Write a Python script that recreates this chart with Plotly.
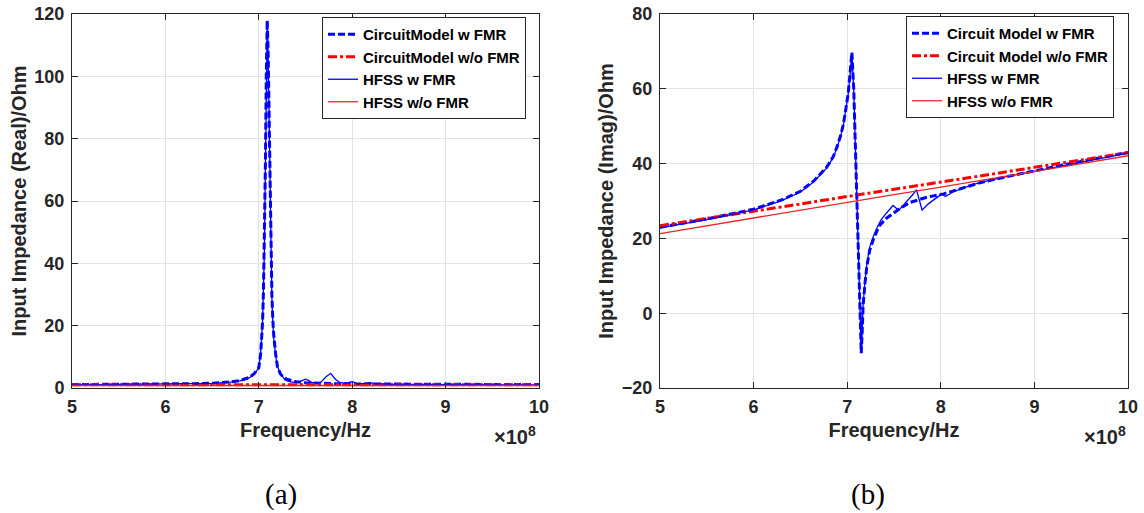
import plotly.graph_objects as go

W, H = 1144, 513

# ---------------- data (frequency in units of 1e8 Hz) ----------------
# (a) real part
re_cm_w_f = [5.0, 5.5, 6.0, 6.3, 6.5, 6.6, 6.7, 6.8, 6.85, 6.9, 6.95, 6.98, 7.0, 7.02, 7.03, 7.04,
             7.05, 7.06, 7.07, 7.08, 7.09, 7.10, 7.11, 7.12, 7.13, 7.14, 7.15, 7.16, 7.18, 7.2,
             7.23, 7.26, 7.3, 7.35, 7.4, 7.5, 7.6, 7.8, 8.0, 8.5, 9.0, 10.0]
re_cm_w_v = [1.1, 1.15, 1.25, 1.4, 1.55, 1.7, 1.95, 2.4, 2.8, 3.4, 4.6, 5.6, 6.5, 11.0, 15.0, 21.0,
             31.0, 45.0, 70.0, 100.0, 118.0, 108.0, 85.0, 60.0, 42.0, 30.0, 22.0, 17.0, 11.0, 6.8,
             4.6, 3.6, 2.8, 2.3, 2.0, 1.7, 1.55, 1.4, 1.3, 1.2, 1.15, 1.1]

re_cm_wo_f = [5.0, 6.0, 7.0, 8.0, 9.0, 10.0]
re_cm_wo_v = [1.05, 1.05, 1.04, 1.04, 1.03, 1.03]

re_hf_w_f = [5.0, 5.5, 6.0, 6.5, 6.7, 6.8, 6.9, 6.95, 7.0, 7.02, 7.04, 7.05, 7.06, 7.07, 7.08,
             7.09, 7.10, 7.11, 7.12, 7.13, 7.14, 7.15, 7.16, 7.18, 7.2, 7.23, 7.28, 7.34, 7.41,
             7.45, 7.5, 7.54, 7.57, 7.66, 7.72, 7.77, 7.82, 7.87, 7.94, 8.0, 8.05, 8.12, 8.19,
             8.25, 8.3, 8.4, 9.0, 10.0]
re_hf_w_v = [1.0, 1.1, 1.2, 1.5, 1.9, 2.3, 3.3, 4.5, 6.4, 11.5, 21.0, 30.0, 44.0, 69.0, 99.0,
             117.0, 107.0, 84.0, 59.0, 41.0, 29.0, 21.0, 16.0, 10.5, 6.9, 4.8, 2.6, 2.0, 1.7,
             2.2, 2.8, 2.3, 1.7, 1.7, 3.6, 4.7, 2.8, 1.7, 1.6, 2.0, 1.4, 1.5, 1.7,
             1.4, 1.3, 1.2, 1.1, 1.0]

re_hf_wo_f = [5.0, 6.0, 7.0, 8.0, 9.0, 10.0]
re_hf_wo_v = [0.8, 0.8, 0.8, 0.8, 0.8, 0.8]

# (b) imaginary part
im_cm_w_f = [5.0, 5.5, 6.0, 6.3, 6.5, 6.64, 6.78, 6.85, 6.89, 6.93, 6.96, 6.99, 7.01, 7.03,
             7.05, 7.07, 7.09, 7.10, 7.12, 7.13, 7.15, 7.16, 7.17, 7.19, 7.21, 7.24, 7.28,
             7.32, 7.35, 7.42, 7.49, 7.58, 7.67, 7.76, 7.85, 8.03, 8.2, 8.42, 8.7, 9.0,
             9.5, 10.0]
im_cm_w_v = [23.0, 25.2, 27.8, 30.3, 32.6, 35.3, 39.0, 41.8, 44.4, 47.5, 50.6, 55.0, 58.6, 64.0,
             69.7, 60.0, 42.0, 30.0, 12.0, 3.5, -10.7, -5.0, 2.0, 8.0, 12.5, 16.8, 19.8,
             22.1, 23.6, 25.4, 26.7, 28.3, 29.6, 30.4, 31.0, 31.9, 33.3, 34.9, 36.5, 38.1,
             40.6, 43.0]

im_cm_wo_f = [5.0, 5.5, 6.0, 6.5, 7.0, 7.5, 8.0, 8.5, 9.0, 9.5, 10.0]
im_cm_wo_v = [23.4, 25.3, 27.3, 29.2, 31.2, 33.1, 35.1, 37.0, 39.0, 40.9, 42.9]

im_hf_w_f = [5.0, 5.5, 6.0, 6.3, 6.5, 6.64, 6.78, 6.85, 6.89, 6.93, 6.96, 6.99, 7.01, 7.03,
             7.05, 7.07, 7.09, 7.10, 7.12, 7.13, 7.15, 7.16, 7.17, 7.19, 7.21, 7.24, 7.28,
             7.32, 7.36, 7.42, 7.49, 7.55, 7.62, 7.69, 7.74, 7.80, 7.87, 7.94, 8.01, 8.05,
             8.13, 8.25, 8.42, 8.7, 9.0, 9.5, 10.0]
im_hf_w_v = [22.8, 25.0, 27.6, 30.1, 32.4, 35.1, 38.8, 41.6, 44.2, 47.3, 50.4, 54.8, 58.4, 63.8,
             69.4, 59.8, 41.8, 29.8, 11.8, 3.3, -10.5, -4.8, 2.3, 8.6, 13.2, 17.6, 20.6,
             22.9, 24.9, 26.8, 28.8, 27.5, 29.4, 31.4, 33.0, 27.6, 29.3, 30.7, 31.9, 31.2,
             32.4, 33.6, 35.0, 36.5, 38.0, 40.4, 42.8]

im_hf_wo_f = [5.0, 5.5, 6.0, 6.5, 7.0, 7.5, 8.0, 8.5, 9.0, 9.5, 10.0]
im_hf_wo_v = [21.3, 23.4, 25.4, 27.5, 29.6, 31.7, 33.7, 35.8, 37.9, 40.0, 42.1]

x_ticks = [5, 6, 7, 8, 9, 10]
names_a = ["CircuitModel w FMR", "CircuitModel w/o FMR", "HFSS w FMR", "HFSS w/o FMR"]
names_b = ["Circuit Model w FMR", "Circuit Model w/o FMR", "HFSS w FMR", "HFSS w/o FMR"]

# ---------------- styling ----------------
BLUE = "#0000ff"
RED = "#ff0000"
RED_THIN = "#e8262a"
AX = "#262626"
FONT = "Liberation Sans, Arial, sans-serif"

styles = [
    dict(color=BLUE, width=3, dash="7px,3px"),
    dict(color=RED, width=3, dash="9px,3px,3px,3px"),
    dict(color=BLUE, width=1.3),
    dict(color=RED_THIN, width=1.3),
]

fig = go.Figure()

data_a = [(re_cm_w_f, re_cm_w_v), (re_cm_wo_f, re_cm_wo_v), (re_hf_w_f, re_hf_w_v), (re_hf_wo_f, re_hf_wo_v)]
data_b = [(im_cm_w_f, im_cm_w_v), (im_cm_wo_f, im_cm_wo_v), (im_hf_w_f, im_hf_w_v), (im_hf_wo_f, im_hf_wo_v)]

for (fx, fy), nm, st in zip(data_a, names_a, styles):
    fig.add_trace(go.Scatter(x=fx, y=fy, mode="lines", name=nm, line=st,
                             xaxis="x", yaxis="y", legend="legend"))
for (fx, fy), nm, st in zip(data_b, names_b, styles):
    fig.add_trace(go.Scatter(x=fx, y=fy, mode="lines", name=nm, line=st,
                             xaxis="x2", yaxis="y2", legend="legend2"))

ydom = [(H - 388) / H, (H - 14) / H]
axis_common = dict(
    showline=True, linecolor=AX, linewidth=1, mirror="ticks",
    ticks="inside", ticklen=6, tickwidth=1, tickcolor=AX,
    showgrid=True, gridcolor="#e3e3e3", gridwidth=1, zeroline=False,
    tickfont=dict(family=FONT, size=18, color=AX, weight="bold"),
    automargin=False,
)
title_font = dict(family=FONT, size=20, color=AX, weight="bold")
leg_font = dict(family=FONT, size=15, color="black", weight="bold")

fig.update_layout(
    width=W, height=H, autosize=False,
    margin=dict(l=0, r=0, t=0, b=0),
    paper_bgcolor="white", plot_bgcolor="white",
    showlegend=True,
    xaxis=dict(domain=[72 / W, 539 / W], range=[5, 10], tickvals=x_ticks, anchor="y",
               ticklabelstandoff=2,
               title=dict(text="Frequency/Hz", font=title_font, standoff=7), **axis_common),
    yaxis=dict(domain=ydom, range=[0, 120], dtick=20, anchor="x", ticklabelstandoff=3,
               title=dict(text="Input Impedance (Real)/Ohm", font=title_font, standoff=2),
               **axis_common),
    xaxis2=dict(domain=[660 / W, 1128 / W], range=[5, 10], tickvals=x_ticks, anchor="y2",
                ticklabelstandoff=2,
                title=dict(text="Frequency/Hz", font=title_font, standoff=7), **axis_common),
    yaxis2=dict(domain=ydom, range=[-20, 80], dtick=20, anchor="x2", ticklabelstandoff=3,
                title=dict(text="Input Impedance (Imag)/Ohm", font=title_font, standoff=2),
                **axis_common),
    legend=dict(x=322 / W, y=1 - 17 / H, xanchor="left", yanchor="top",
                bgcolor="white", bordercolor=AX, borderwidth=1, font=leg_font,
                itemwidth=30, tracegroupgap=0),
    legend2=dict(x=906 / W, y=1 - 16 / H, xanchor="left", yanchor="top",
                 bgcolor="white", bordercolor=AX, borderwidth=1, font=leg_font,
                 itemwidth=30, tracegroupgap=0),
)

exp_font = dict(family=FONT, size=20, color=AX, weight="bold")
fig.add_annotation(text="×10<sup>8</sup>", xref="paper", yref="paper", x=538 / W, y=1 - 435 / H,
                   xanchor="right", yanchor="middle", showarrow=False, font=exp_font)
fig.add_annotation(text="×10<sup>8</sup>", xref="paper", yref="paper", x=1128 / W, y=1 - 435 / H,
                   xanchor="right", yanchor="middle", showarrow=False, font=exp_font)

lab_font = dict(family="Liberation Serif, serif", size=29, color="black")
fig.add_annotation(text="(a)", xref="paper", yref="paper", x=281 / W, y=1 - 494 / H,
                   xanchor="center", yanchor="middle", showarrow=False, font=lab_font)
fig.add_annotation(text="(b)", xref="paper", yref="paper", x=868 / W, y=1 - 494 / H,
                   xanchor="center", yanchor="middle", showarrow=False, font=lab_font)

fig.write_html("out.html")
